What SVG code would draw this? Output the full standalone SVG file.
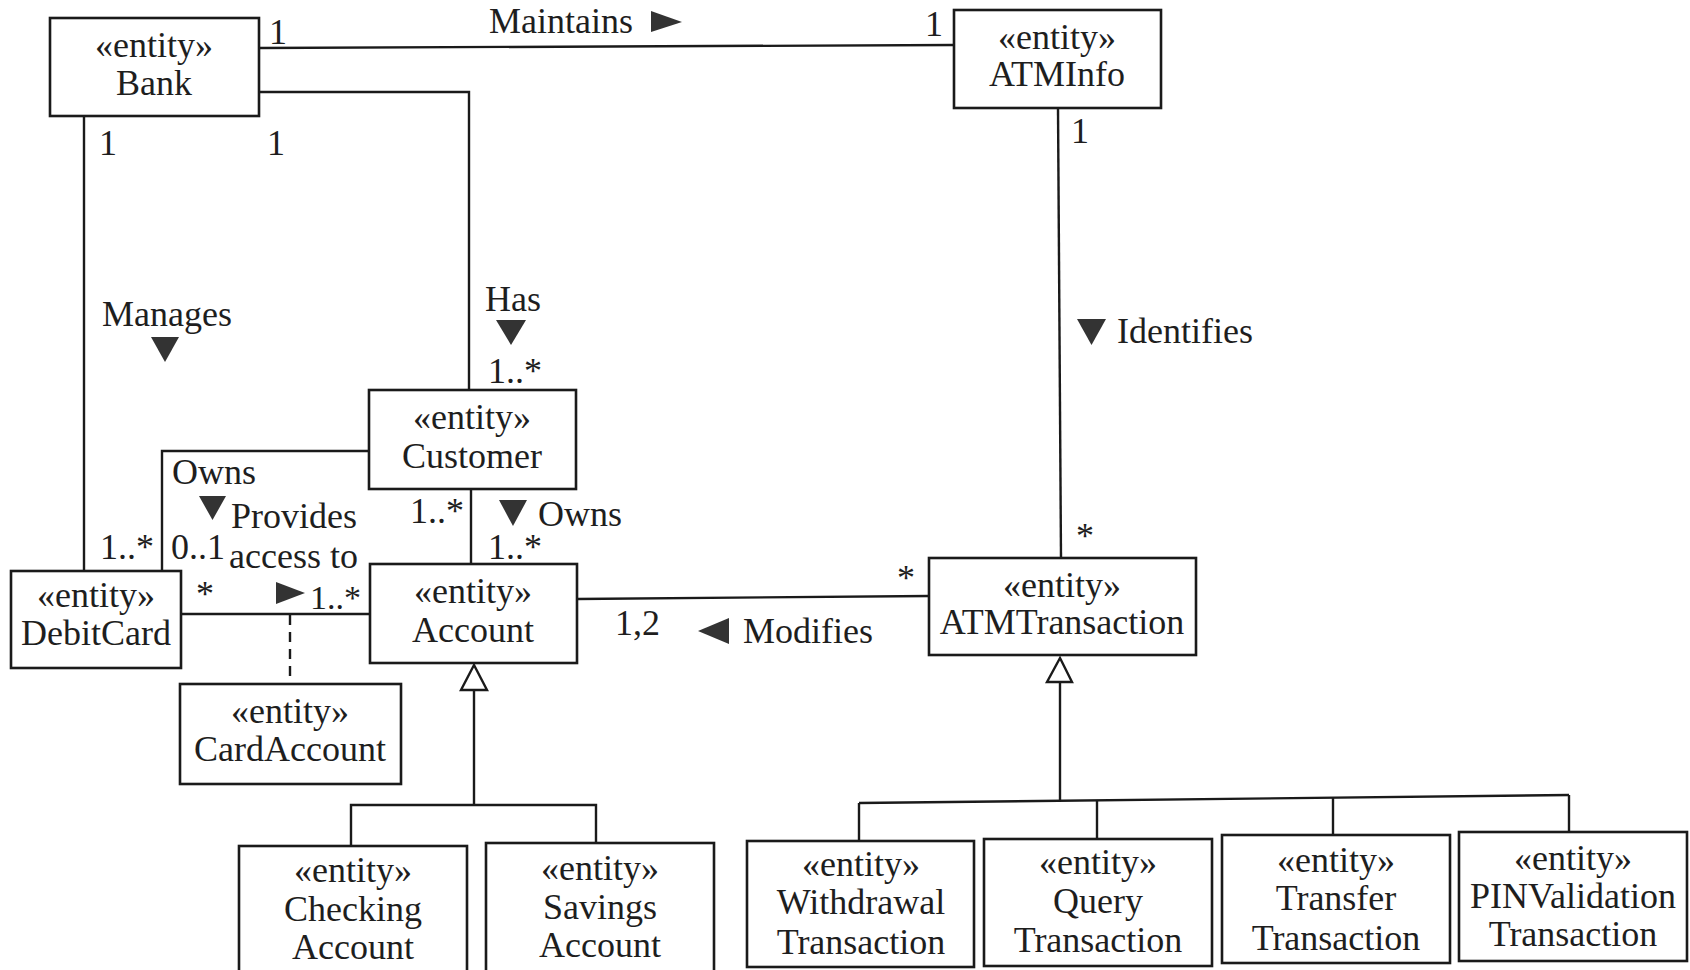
<svg xmlns="http://www.w3.org/2000/svg" width="1690" height="970" viewBox="0 0 1690 970">
  <style>
    text { font-family: "Liberation Serif", "Times New Roman", serif; font-size: 36px; fill: #1e1e1e; }
    .c { text-anchor: middle; }
    .sm { font-size: 34px; }
    .box { fill: #ffffff; stroke: #1a1a1a; stroke-width: 2.6; }
    .ln { fill: none; stroke: #1a1a1a; stroke-width: 2.4; }
    .dash { fill: none; stroke: #1a1a1a; stroke-width: 2.4; stroke-dasharray: 10 7; }
    .dir { fill: #333333; stroke: none; }
    .gen { fill: #ffffff; stroke: #1a1a1a; stroke-width: 2.4; }
  </style>
  <rect width="1690" height="970" fill="#ffffff"/>

  <!-- associations and generalizations -->
  <g id="connectors">
    <!-- Bank - ATMInfo : Maintains -->
    <line class="ln" x1="259" y1="48" x2="954" y2="45"/>
    <text class="c" x="278" y="44">1</text>
    <text class="c" x="934" y="36">1</text>
    <text x="489" y="33">Maintains</text>
    <polygon class="dir" points="651,11 682,22 651,32"/>

    <!-- Bank - Customer : Has -->
    <polyline class="ln" points="259,92 469,92 469,390"/>
    <text class="c" x="276" y="155">1</text>
    <text class="c" x="513" y="311">Has</text>
    <polygon class="dir" points="496,320 526,320 511,345"/>
    <text x="488" y="383">1..*</text>

    <!-- Bank - DebitCard : Manages -->
    <line class="ln" x1="84" y1="116" x2="84" y2="571"/>
    <text class="c" x="108" y="155">1</text>
    <text class="c" x="167" y="326">Manages</text>
    <polygon class="dir" points="151,337 179,337 165,362"/>
    <text x="100" y="559">1..*</text>

    <!-- Customer - DebitCard : Owns -->
    <polyline class="ln" points="369,451 162,451 162,571"/>
    <text x="172" y="484">Owns</text>
    <polygon class="dir" points="199,496 226,496 212.5,520"/>
    <text x="171" y="559">0..1</text>

    <!-- DebitCard - Account : Provides access to -->
    <line class="ln" x1="181" y1="614" x2="370" y2="614"/>
    <text class="c" x="205" y="606">*</text>
    <text><tspan x="231" y="528">Provides</tspan><tspan x="229" y="568">access to</tspan></text>
    <polygon class="dir" points="276,582 305,593 276,604"/>
    <text class="sm" x="310" y="609">1..*</text>
    <line class="dash" x1="290" y1="615" x2="290" y2="684"/>

    <!-- Customer - Account : Owns -->
    <line class="ln" x1="471" y1="489" x2="471" y2="564"/>
    <text x="410" y="523">1..*</text>
    <polygon class="dir" points="499,500 527,500 513,526"/>
    <text x="538" y="526">Owns</text>
    <text x="488" y="559">1..*</text>

    <!-- Account - ATMTransaction : Modifies -->
    <line class="ln" x1="577" y1="599" x2="929" y2="596"/>
    <text x="615" y="635">1,2</text>
    <polygon class="dir" points="729,618 698,631 729,644"/>
    <text x="743" y="643">Modifies</text>
    <text class="c" x="906" y="590">*</text>

    <!-- ATMInfo - ATMTransaction : Identifies -->
    <line class="ln" x1="1058" y1="108" x2="1061" y2="558"/>
    <text class="c" x="1080" y="143">1</text>
    <polygon class="dir" points="1077,319 1106,319 1091.5,345"/>
    <text x="1117" y="343">Identifies</text>
    <text class="c" x="1085" y="548">*</text>

    <!-- Account specializations -->
    <polygon class="gen" points="474,665 487,690 461,690"/>
    <polyline class="ln" points="474,690 474,805"/>
    <polyline class="ln" points="351,846 351,805 596,805 596,843"/>

    <!-- ATMTransaction specializations -->
    <polygon class="gen" points="1060,658 1072,682 1047,682"/>
    <line class="ln" x1="1060" y1="682" x2="1060" y2="801"/>
    <line class="ln" x1="859" y1="803" x2="1569" y2="795"/>
    <line class="ln" x1="859" y1="803" x2="859" y2="841"/>
    <line class="ln" x1="1097" y1="800.5" x2="1097" y2="839"/>
    <line class="ln" x1="1333" y1="798" x2="1333" y2="835"/>
    <line class="ln" x1="1569" y1="795" x2="1569" y2="832"/>
  </g>

  <g id="bank">
    <rect class="box" x="50" y="18" width="209" height="98"/>
    <text class="c" x="154" y="57">«entity»</text>
    <text class="c" x="154" y="95">Bank</text>
  </g>

  <g id="atminfo">
    <rect class="box" x="954" y="10" width="207" height="98"/>
    <text class="c" x="1057" y="49">«entity»</text>
    <text class="c" x="1057" y="86">ATMInfo</text>
  </g>

  <g id="customer">
    <rect class="box" x="369" y="390" width="207" height="99"/>
    <text class="c" x="472" y="429">«entity»</text>
    <text class="c" x="472" y="468">Customer</text>
  </g>

  <g id="debitcard">
    <rect class="box" x="11" y="571" width="170" height="97"/>
    <text class="c" x="96" y="607">«entity»</text>
    <text class="c" x="96" y="645">DebitCard</text>
  </g>

  <g id="account">
    <rect class="box" x="370" y="564" width="207" height="99"/>
    <text class="c" x="473" y="603">«entity»</text>
    <text class="c" x="473" y="642">Account</text>
  </g>

  <g id="cardaccount">
    <rect class="box" x="180" y="684" width="221" height="100"/>
    <text class="c" x="290" y="723">«entity»</text>
    <text class="c" x="290" y="761">CardAccount</text>
  </g>

  <g id="atmtransaction">
    <rect class="box" x="929" y="558" width="267" height="97"/>
    <text class="c" x="1062" y="597">«entity»</text>
    <text class="c" x="1062" y="634">ATMTransaction</text>
  </g>

  <g id="checkingaccount">
    <rect class="box" x="239" y="846" width="228" height="140"/>
    <text class="c" x="353" y="882">«entity»</text>
    <text class="c" x="353" y="921">Checking</text>
    <text class="c" x="353" y="959">Account</text>
  </g>

  <g id="savingsaccount">
    <rect class="box" x="486" y="843" width="228" height="140"/>
    <text class="c" x="600" y="880">«entity»</text>
    <text class="c" x="600" y="919">Savings</text>
    <text class="c" x="600" y="957">Account</text>
  </g>

  <g id="withdrawaltransaction">
    <rect class="box" x="747" y="841" width="227" height="126"/>
    <text class="c" x="861" y="876">«entity»</text>
    <text class="c" x="861" y="914">Withdrawal</text>
    <text class="c" x="861" y="954">Transaction</text>
  </g>

  <g id="querytransaction">
    <rect class="box" x="984" y="839" width="228" height="127"/>
    <text class="c" x="1098" y="874">«entity»</text>
    <text class="c" x="1098" y="913">Query</text>
    <text class="c" x="1098" y="952">Transaction</text>
  </g>

  <g id="transfertransaction">
    <rect class="box" x="1222" y="835" width="228" height="128"/>
    <text class="c" x="1336" y="872">«entity»</text>
    <text class="c" x="1336" y="910">Transfer</text>
    <text class="c" x="1336" y="950">Transaction</text>
  </g>

  <g id="pinvalidationtransaction">
    <rect class="box" x="1459" y="832" width="228" height="129"/>
    <text class="c" x="1573" y="870">«entity»</text>
    <text class="c" x="1573" y="908">PINValidation</text>
    <text class="c" x="1573" y="946">Transaction</text>
  </g>
</svg>
